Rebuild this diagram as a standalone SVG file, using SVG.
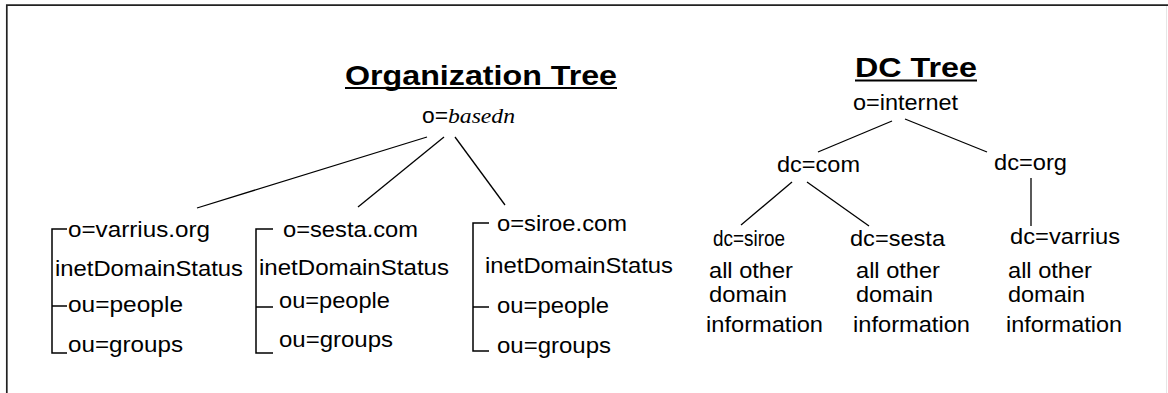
<svg xmlns="http://www.w3.org/2000/svg" width="1168" height="393" viewBox="0 0 1168 393">
  <style>
    .lbl { font-family: "Liberation Sans", Arial, sans-serif; font-size: 22px; fill: #000; }
    .ital { font-family: "Liberation Serif", "Times New Roman", serif; font-style: italic; font-size: 22px; fill: #000; }
    .title { font-family: "Liberation Sans", Arial, sans-serif; font-size: 28px; font-weight: bold; fill: #000; }
    .uline { stroke: #000; stroke-width: 2; }
    .edge { stroke: #000; stroke-width: 1.3; fill: none; }
    .bracket { stroke: #000; stroke-width: 1.5; fill: none; }
  </style>

  <rect width="1168" height="393" fill="#fff"/>
  <!-- page frame: top and left rules, faint right edge -->
  <path d="M6.8 393 V5.2 H1168" fill="none" stroke="#222" stroke-width="1.7"/>
  <line x1="1166.5" y1="6" x2="1166.5" y2="393" stroke="#e6e6e6" stroke-width="1"/>

  <!-- headings -->
  <g id="title-org">
    <text class="title" x="345" y="85" textLength="272" lengthAdjust="spacingAndGlyphs">Organization Tree</text>
    <line class="uline" x1="345" y1="88" x2="617" y2="88"/>
  </g>
  <g id="title-dc">
    <text class="title" x="855" y="77" textLength="122" lengthAdjust="spacingAndGlyphs">DC Tree</text>
    <line class="uline" x1="855" y1="80.5" x2="977" y2="80.5"/>
  </g>

  <!-- connectors -->
  <g id="connectors">
    <line class="edge" x1="427" y1="137" x2="197" y2="208"/>
    <line class="edge" x1="444" y1="137" x2="358" y2="207"/>
    <line class="edge" x1="455" y1="137" x2="505" y2="205"/>

    <path class="bracket" d="M67 229 H52 V353 H67 M52 306 H67"/>
    <path class="bracket" d="M273 229 H256 V353 H273 M256 307 H273"/>
    <path class="bracket" d="M489 223 H473 V351 H489 M473 307 H489"/>

    <line class="edge" x1="892" y1="121" x2="818" y2="152"/>
    <line class="edge" x1="905" y1="119" x2="987" y2="152"/>
    <line class="edge" x1="792" y1="182" x2="741" y2="225"/>
    <line class="edge" x1="807" y1="182" x2="869" y2="226"/>
    <line class="edge" x1="1031" y1="178" x2="1031" y2="226"/>
  </g>

  <!-- organization tree -->
  <g id="org-root">
    <text class="lbl" x="422" y="123" textLength="26" lengthAdjust="spacingAndGlyphs">o=</text>
    <text class="ital" x="448" y="123" textLength="67" lengthAdjust="spacingAndGlyphs">basedn</text>
  </g>
  <g id="org-varrius">
    <text class="lbl" x="68" y="237" textLength="142" lengthAdjust="spacingAndGlyphs">o=varrius.org</text>
    <text class="lbl" x="55" y="276" textLength="188" lengthAdjust="spacingAndGlyphs">inetDomainStatus</text>
    <text class="lbl" x="68" y="312" textLength="115" lengthAdjust="spacingAndGlyphs">ou=people</text>
    <text class="lbl" x="68" y="352" textLength="115" lengthAdjust="spacingAndGlyphs">ou=groups</text>
  </g>
  <g id="org-sesta">
    <text class="lbl" x="283" y="237" textLength="135" lengthAdjust="spacingAndGlyphs">o=sesta.com</text>
    <text class="lbl" x="259" y="275" textLength="190" lengthAdjust="spacingAndGlyphs">inetDomainStatus</text>
    <text class="lbl" x="279" y="308" textLength="111" lengthAdjust="spacingAndGlyphs">ou=people</text>
    <text class="lbl" x="279" y="347" textLength="114" lengthAdjust="spacingAndGlyphs">ou=groups</text>
  </g>
  <g id="org-siroe">
    <text class="lbl" x="497" y="231" textLength="130" lengthAdjust="spacingAndGlyphs">o=siroe.com</text>
    <text class="lbl" x="485" y="273" textLength="188" lengthAdjust="spacingAndGlyphs">inetDomainStatus</text>
    <text class="lbl" x="497" y="313" textLength="112" lengthAdjust="spacingAndGlyphs">ou=people</text>
    <text class="lbl" x="497" y="353" textLength="114" lengthAdjust="spacingAndGlyphs">ou=groups</text>
  </g>

  <!-- dc tree -->
  <g id="dc-root">
    <text class="lbl" x="853" y="110" textLength="105" lengthAdjust="spacingAndGlyphs">o=internet</text>
  </g>
  <g id="dc-com">
    <text class="lbl" x="777" y="172" textLength="83" lengthAdjust="spacingAndGlyphs">dc=com</text>
  </g>
  <g id="dc-org">
    <text class="lbl" x="994" y="170" textLength="73" lengthAdjust="spacingAndGlyphs">dc=org</text>
  </g>
  <g id="dc-siroe">
    <text class="lbl" x="713" y="246" font-size="22.5" textLength="72" lengthAdjust="spacingAndGlyphs">dc=siroe</text>
    <text class="lbl" x="709" y="278" textLength="84" lengthAdjust="spacingAndGlyphs">all other</text>
    <text class="lbl" x="709" y="302" textLength="78" lengthAdjust="spacingAndGlyphs">domain</text>
    <text class="lbl" x="706" y="332" textLength="117" lengthAdjust="spacingAndGlyphs">information</text>
  </g>
  <g id="dc-sesta">
    <text class="lbl" x="850" y="246" textLength="95" lengthAdjust="spacingAndGlyphs">dc=sesta</text>
    <text class="lbl" x="856" y="278" textLength="84" lengthAdjust="spacingAndGlyphs">all other</text>
    <text class="lbl" x="856" y="302" textLength="77" lengthAdjust="spacingAndGlyphs">domain</text>
    <text class="lbl" x="853" y="332" textLength="117" lengthAdjust="spacingAndGlyphs">information</text>
  </g>
  <g id="dc-varrius">
    <text class="lbl" x="1010" y="244" textLength="110" lengthAdjust="spacingAndGlyphs">dc=varrius</text>
    <text class="lbl" x="1008" y="278" textLength="84" lengthAdjust="spacingAndGlyphs">all other</text>
    <text class="lbl" x="1008" y="302" textLength="77" lengthAdjust="spacingAndGlyphs">domain</text>
    <text class="lbl" x="1006" y="332" textLength="116" lengthAdjust="spacingAndGlyphs">information</text>
  </g>
</svg>
